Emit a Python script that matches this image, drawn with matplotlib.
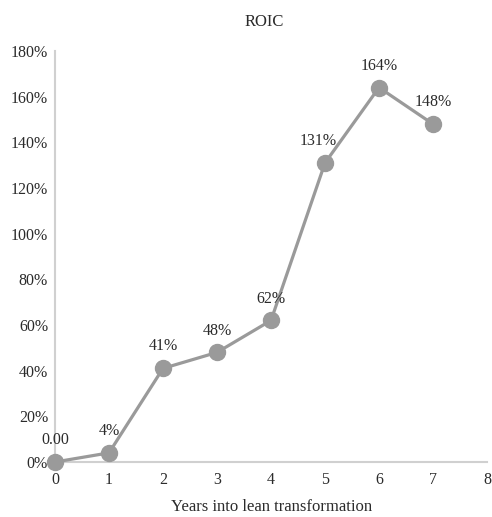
import matplotlib
matplotlib.use("Agg")
import matplotlib.pyplot as plt
from matplotlib.ticker import FuncFormatter

years = [0, 1, 2, 3, 4, 5, 6, 7]
roic = [0, 4, 41, 48, 62, 131, 164, 148]
point_labels = ["0.00", "4%", "41%", "48%", "62%", "131%", "164%", "148%"]
y_ticks = [0, 20, 40, 60, 80, 100, 120, 140, 160, 180]
x_ticks = [0, 1, 2, 3, 4, 5, 6, 7, 8]

plt.rcParams["font.family"] = ["Liberation Serif", "DejaVu Serif"]
text_color = "#2b2b2b"
line_color = "#9a9a9a"
spine_color = "#d0d0d0"

fig = plt.figure(figsize=(4.92, 5.17), dpi=100)
ax = fig.add_axes([55 / 492, 1 - 462 / 517, (487 - 55) / 492, (462 - 51) / 517])

ax.plot(years, roic, color=line_color, lw=2.3, marker="o", ms=11.5,
        markerfacecolor=line_color, markeredgecolor=line_color, zorder=3,
        clip_on=False)

for x, y, lab in zip(years, roic, point_labels):
    dx = -5 if lab == "131%" else 0
    ax.annotate(lab, (x, y), xytext=(dx, 10), textcoords="offset points",
                ha="center", va="bottom", fontsize=11.5, color=text_color)

ax.set_xlim(0, 8)
ax.set_ylim(0, 180)
ax.set_xticks(x_ticks)
ax.set_yticks(y_ticks)
ax.yaxis.set_major_formatter(FuncFormatter(lambda v, p: f"{v:.0f}%"))
ax.tick_params(length=0, labelsize=11.5, labelcolor=text_color)
ax.tick_params(axis="x", pad=7)
ax.tick_params(axis="y", pad=5)

for side in ("top", "right"):
    ax.spines[side].set_visible(False)
for side in ("left", "bottom"):
    ax.spines[side].set_color(spine_color)
    ax.spines[side].set_linewidth(1.5)

fig.text(264 / 492, 1 - 22 / 517, "ROIC", ha="center", va="center",
         fontsize=12, color=text_color)
fig.text(272 / 492, 1 - 507 / 517, "Years into lean transformation",
         ha="center", va="center", fontsize=12, color=text_color)

fig.savefig("out.png", dpi=100)
